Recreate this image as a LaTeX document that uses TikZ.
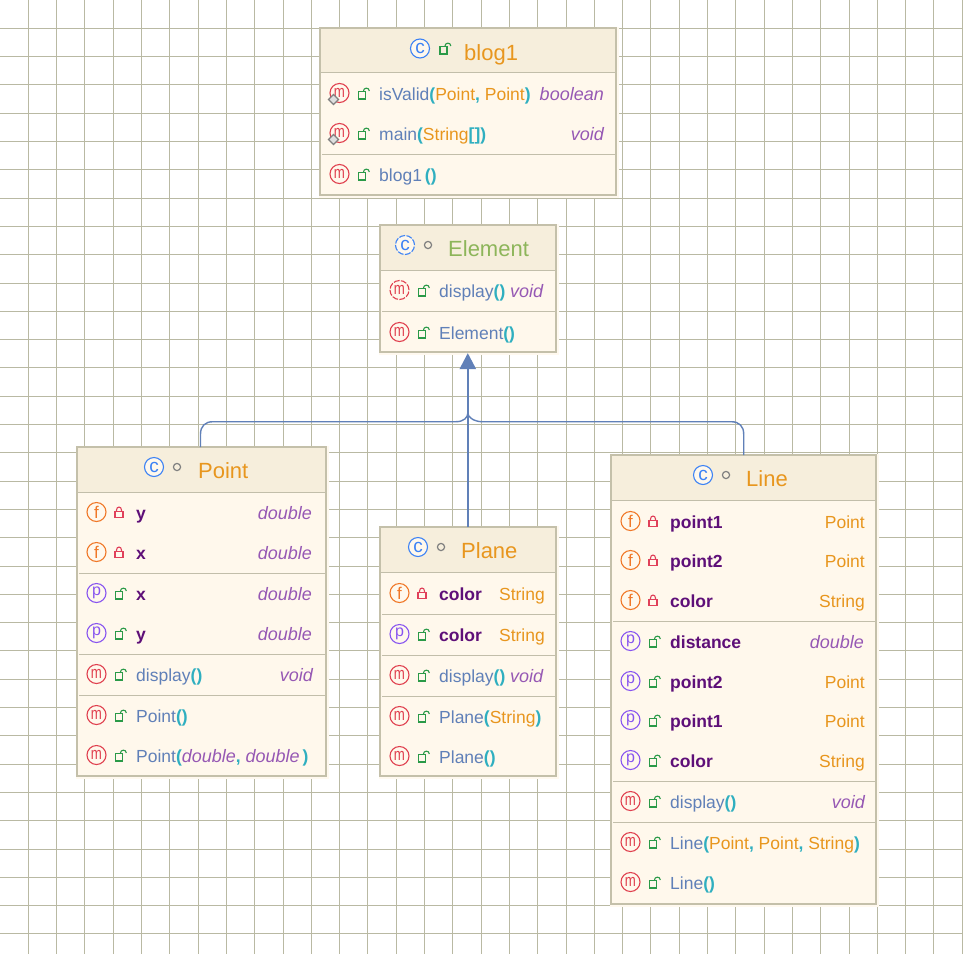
\documentclass[tikz,border=0pt]{standalone}
\usepackage{fontspec}
\setmainfont{Liberation Sans}
\definecolor{gridc}{HTML}{B9B9A3}
\definecolor{halo}{HTML}{FFF9EF}
\definecolor{bodyc}{HTML}{FFF8EC}
\definecolor{headc}{HTML}{F6EEDC}
\definecolor{edgec}{HTML}{C4C0AA}
\definecolor{sepc}{HTML}{C2BEAA}
\definecolor{titleo}{HTML}{E8961E}
\definecolor{titleg}{HTML}{8DB55A}
\definecolor{methc}{HTML}{6080B8}
\definecolor{parc}{HTML}{2FAFC0}
\definecolor{typec}{HTML}{9658B4}
\definecolor{fieldc}{HTML}{5E0F78}
\definecolor{iconf}{HTML}{F07828}
\definecolor{iconm}{HTML}{E0404F}
\definecolor{iconp}{HTML}{8855F0}
\definecolor{iconc}{HTML}{3C82F5}
\definecolor{lockg}{HTML}{2A9A48}
\definecolor{lockr}{HTML}{E0405A}
\definecolor{arrowc}{HTML}{6080B8}
\newcounter{nid}
\newcommand{\nn}{n\arabic{nid}}
\tikzset{
  x=1pt,y=-1pt,
  umlbox/.style={draw=edgec,line width=1.6pt,fill=bodyc,anchor=north west,inner sep=0pt,outer sep=0pt},
  headline/.style={draw=sepc,line width=1.6pt},
  sepline/.style={draw=sepc,line width=1pt},
  membertext/.style={anchor=base west,inner sep=0pt,font=\fontsize{17.5}{20}\selectfont},
  typetext/.style={anchor=base east,inner sep=0pt,text=typec,font=\fontsize{18}{20}\selectfont\itshape},
  stringtext/.style={anchor=base east,inner sep=0pt,text=titleo,font=\fontsize{17.5}{20}\selectfont},
  titletext/.style={anchor=base west,inner sep=0pt,font=\fontsize{22}{24}\selectfont},
  iconcircle/.style={circle,draw=#1,line width=1.1pt,fill=bodyc,minimum size=19pt,inner sep=0pt,text=#1,font=\fontsize{17}{17}\selectfont},
  link/.style={draw=arrowc,line width=1.4pt},
  tip/.style={fill=arrowc,draw=none},
}
% box: name x y w h headerbottom
\newcommand{\umlclass}[6]{%
  \fill[halo] (#2-1,#3-1) rectangle (#2+#4+3,#3+#5+3);
  \node[umlbox,minimum width=#4pt,minimum height=#5pt] (#1) at (#2+.2,#3+.2) {};
  \fill[headc] (#2+1,#3+1) rectangle (#2+#4-.6,#6);
  \draw[headline] (#2+1,#6+.5) -- (#2+#4-.6,#6+.5);
}
\newcommand{\sepl}[3]{\draw[sepline] (#1+2,#2+.5) -- (#1+#3-1,#2+.5);}
\newcommand{\openlock}[2]{%
  \draw[lockg,line width=1.1pt] (#1-4.5,#2-1) rectangle (#1+2.5,#2+6.5);
  \draw[lockg,line width=1.1pt] (#1+.3,#2-1) .. controls (#1+.3,#2-5.4) and (#1+6.3,#2-5.4) .. (#1+6.3,#2-1.5);
}
\newcommand{\closedlock}[2]{%
  \draw[lockr,line width=1.1pt] (#1-4,#2+.2) rectangle (#1+4,#2+6.2);
  \draw[lockr,line width=1.1pt] (#1-2.5,#2+.2) -- (#1-2.5,#2-1.5) .. controls (#1-2.5,#2-5.4) and (#1+2.5,#2-5.4) .. (#1+2.5,#2-1.5) -- (#1+2.5,#2+.2);
}
\newcommand{\emm}{\scalebox{.78}[1]{m}}
\newcommand{\pee}{{\fontsize{16}{16}\selectfont p}}
% icon: x-of-box y letter colour
\newcommand{\icon}[4]{\stepcounter{nid}\node[iconcircle=#4] (\nn) at (#1+19.5,#2-1) {#3};}
\newcommand{\dicon}[4]{\stepcounter{nid}\node[iconcircle=#4,dash pattern=on 6pt off 1.4pt] (\nn) at (#1+19.5,#2-1) {#3};}
\newcommand{\txt}[3]{\stepcounter{nid}\node[membertext] (\nn) at (#1+59,#2+6.8) {#3};}
\newcommand{\rtype}[3]{\stepcounter{nid}\node[typetext] (\nn) at (#1,#2+6.8) {#3};}
\newcommand{\rstr}[3]{\stepcounter{nid}\node[stringtext] (\nn) at (#1,#2+6.8) {#3};}
\newcommand{\mm}[1]{\textcolor{methc}{#1}}
\newcommand{\pp}[1]{\textcolor{parc}{\bfseries #1}}
\newcommand{\oo}[1]{\textcolor{titleo}{#1}}
\newcommand{\ff}[1]{\textcolor{fieldc}{\bfseries #1}}
\newcommand{\ii}[1]{\textcolor{typec}{\fontsize{18}{20}\selectfont\itshape #1}}
% method, property, field rows: boxx y text
\newcommand{\mrow}[3]{\icon{#1}{#2}{\emm}{iconm}\openlock{#1+43}{#2-1.5}\txt{#1}{#2}{#3}}
\newcommand{\prow}[3]{\icon{#1}{#2}{\pee}{iconp}\openlock{#1+43}{#2-1.5}\txt{#1}{#2}{\ff{#3}}}
\newcommand{\frow}[3]{\icon{#1}{#2}{f}{iconf}\closedlock{#1+42}{#2-1.5}\txt{#1}{#2}{\ff{#3}}}
\newcommand{\classicon}[2]{\stepcounter{nid}\node[iconcircle=iconc,font=\fontsize{19}{19}\selectfont] (\nn) at (#1,#2) {c};}
\newcommand{\dclassicon}[2]{\stepcounter{nid}\node[iconcircle=iconc,font=\fontsize{19}{19}\selectfont,dash pattern=on 6pt off 1.4pt] (\nn) at (#1,#2) {c};}
\newcommand{\pkgdot}[2]{\draw[gray,line width=1.2pt,fill=headc] (#1,#2) circle[radius=3.6];}
\newcommand{\staticmark}[2]{\draw[gray,line width=1.1pt,fill=gray!25] (#1-5,#2) -- (#1,#2-5) -- (#1+5,#2) -- (#1,#2+5) -- cycle;}
\begin{document}
\begin{tikzpicture}
\useasboundingbox (0,0) rectangle (963,954);
\fill[white] (0,0) rectangle (963,954);
\foreach \k in {1,...,34}{\pgfmathsetmacro{\gp}{floor(\k*28.3)+.5}\draw[gridc,line width=1pt] (\gp,0) -- (\gp,954);}
\foreach \k in {1,...,33}{\pgfmathsetmacro{\gp}{floor(\k*28.3)+.5}\draw[gridc,line width=1pt] (0,\gp) -- (963,\gp);}

% blog1
\umlclass{blog}{320}{28}{296}{167}{72}
\classicon{420}{48.5}\openlock{444.5}{47.5}
\node[titletext,text=titleo] (blogtitle) at (464,60) {blog1};
\mrow{320}{94}{\mm{isValid}\pp{(}\oo{Point}\pp{,} \oo{Point}\pp{)}}
\rtype{604}{94}{boolean}
\staticmark{333.5}{99.5}
\mrow{320}{134}{\mm{main}\pp{(}\oo{String}\pp{[]}\pp{)}}
\rtype{604}{134}{void}
\staticmark{333.5}{139.5}
\sepl{320}{154}{296}
\mrow{320}{175}{\mm{blog1}\,\pp{()}}

% Element
\umlclass{element}{380}{225}{176}{127}{270}
\dclassicon{405}{245}\pkgdot{428}{245}
\node[titletext,text=titleg] (elementtitle) at (448,256.5) {Element};
\dicon{380}{291}{\emm}{iconm}\openlock{423}{289.5}\txt{380}{291}{\mm{display}\pp{()} \ii{void}}
\sepl{380}{311}{176}
\mrow{380}{333}{\mm{Element}\pp{()}}

% Point
\umlclass{point}{77}{447}{249}{329}{492}
\classicon{154}{467}\pkgdot{177}{467}
\node[titletext,text=titleo] (pointtitle) at (198,478) {Point};
\frow{77}{513}{y}\rtype{312}{513}{double}
\frow{77}{553}{x}\rtype{312}{553}{double}
\sepl{77}{573}{249}
\prow{77}{594}{x}\rtype{312}{594}{double}
\prow{77}{634}{y}\rtype{312}{634}{double}
\sepl{77}{654}{249}
\mrow{77}{675}{\mm{display}\pp{()}}\rtype{313}{675}{void}
\sepl{77}{695}{249}
\mrow{77}{716}{\mm{Point}\pp{()}}
\mrow{77}{756}{\mm{Point}\pp{(}\ii{double}\pp{,} \ii{double}\hspace{3pt}\pp{)}}

% Plane
\umlclass{plane}{380}{527}{176}{249}{572}
\classicon{418}{547}\pkgdot{441}{547}
\node[titletext,text=titleo] (planetitle) at (461,558) {Plane};
\frow{380}{594}{color}\rstr{545}{594}{String}
\sepl{380}{614}{176}
\prow{380}{635}{color}\rstr{545}{635}{String}
\sepl{380}{655}{176}
\mrow{380}{676}{\mm{display}\pp{()} \ii{void}}
\sepl{380}{696}{176}
\mrow{380}{717}{\mm{Plane}\pp{(}\oo{String}\pp{)}}
\mrow{380}{757}{\mm{Plane}\pp{()}}

% Line
\umlclass{line}{611}{455}{265}{449}{500}
\classicon{703}{475}\pkgdot{726}{475}
\node[titletext,text=titleo] (linetitle) at (746,486) {Line};
\frow{611}{522}{point1}\rstr{865}{522}{Point}
\frow{611}{561}{point2}\rstr{865}{561}{Point}
\frow{611}{601}{color}\rstr{865}{601}{String}
\sepl{611}{621}{265}
\prow{611}{642}{distance}\rtype{864}{642}{double}
\prow{611}{682}{point2}\rstr{865}{682}{Point}
\prow{611}{721}{point1}\rstr{865}{721}{Point}
\prow{611}{761}{color}\rstr{865}{761}{String}
\sepl{611}{781}{265}
\mrow{611}{802}{\mm{display}\pp{()}}\rtype{865}{802}{void}
\sepl{611}{822}{265}
\mrow{611}{843}{\mm{Line}\pp{(}\oo{Point}\pp{,} \oo{Point}\pp{,} \oo{String}\pp{)}}
\mrow{611}{883}{\mm{Line}\pp{()}}

% Connectors
\coordinate (tiptop) at ([xshift=-.4pt,yshift=-1pt]element.south);
\coordinate (tipbase) at ([xshift=-.4pt,yshift=-17pt]element.south);
\coordinate (tipleft) at ([xshift=-8.4pt]tipbase);
\coordinate (tipright) at ([xshift=8.4pt]tipbase);
\coordinate (joinup) at ([yshift=-60pt]tiptop);
\coordinate (leftin) at ([xshift=-1.2pt]point.north);
\coordinate (rightin) at (line.north);
\coordinate (planein) at ([xshift=-.4pt]plane.north);
\draw[link] (leftin) -- ++(0,-13) .. controls +(0,-8) and +(-8,0) .. ++(12.5,-12.5) -- ++(243,0) .. controls +(8,0) and +(0,4) .. (joinup) -- (tipbase);
\draw[link] (rightin) -- ++(0,-21) .. controls +(0,-8) and +(8,0) .. ++(-12.5,-12.5) -- ++(-249,0) .. controls +(-8,0) and +(0,4) .. (joinup);
\draw[link] (planein) -- (tipbase);
\fill[tip] (tiptop) -- (tipright) -- (tipleft) -- cycle;
\end{tikzpicture}
\end{document}
